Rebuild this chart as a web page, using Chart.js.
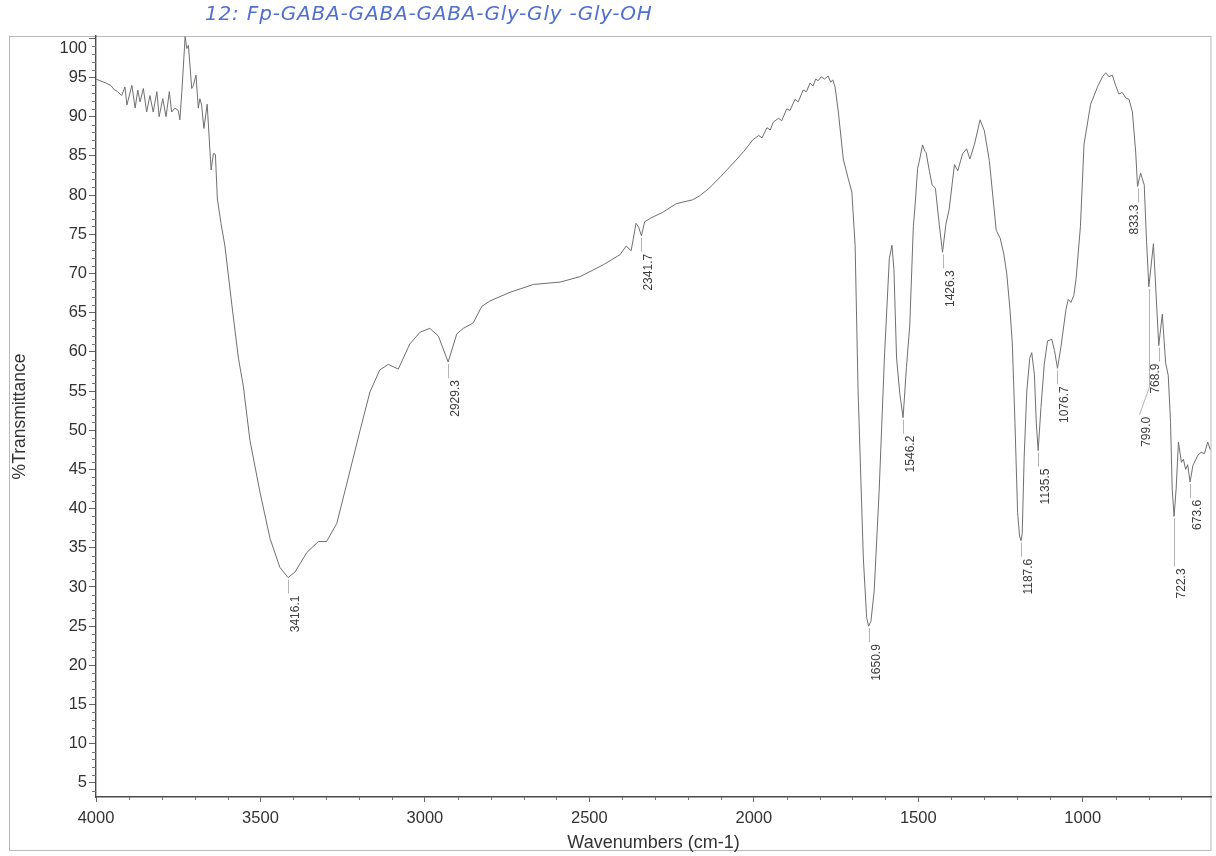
<!DOCTYPE html>
<html>
<head>
<meta charset="utf-8">
<title>FT-IR spectrum 12</title>
<script src="https://cdn.jsdelivr.net/npm/chart.js@4.4.1/dist/chart.umd.min.js"></script>
<style>
  html, body { margin: 0; padding: 0; background: #fff; }
  #spectrum { display: block; }
</style>
</head>
<body>
<canvas id="spectrum" width="1216" height="856"></canvas>
<script>
(() => {
  'use strict'

  const sampleName = '12: Fp-GABA-GABA-GABA-Gly-Gly -Gly-OH'

  // scan points, cm-1 (descending) and %T
  const wavenumbers = [
    4000, 3988, 3970, 3955, 3946, 3934, 3922, 3912, 3906, 3891, 3881, 3873, 3866, 3856,
    3846, 3836, 3826, 3815, 3808, 3797, 3787, 3777, 3770, 3760, 3750, 3745, 3739, 3729,
    3724, 3719, 3709, 3704, 3696, 3689, 3684, 3679, 3672, 3662, 3650, 3643, 3637, 3631,
    3620, 3608, 3587, 3567, 3552, 3532, 3501, 3471, 3441, 3416.1, 3395, 3359, 3324, 3299,
    3268, 3238, 3197, 3167, 3137, 3111, 3081, 3046, 3015, 2985, 2959, 2929.3, 2903, 2883,
    2853, 2827, 2802, 2741, 2670, 2589, 2528, 2458, 2407, 2388, 2373, 2358, 2350, 2341.7,
    2332, 2312, 2277, 2236, 2186, 2165, 2135, 2100, 2062, 2030, 2002, 1985, 1975, 1960,
    1950, 1941, 1925, 1915, 1900, 1890, 1875, 1865, 1850, 1840, 1829, 1820, 1812, 1804,
    1795, 1785, 1774, 1766, 1760, 1753, 1743, 1728, 1713, 1702, 1692, 1683, 1667, 1657,
    1650.9, 1644, 1634, 1619, 1603, 1588, 1580, 1574, 1566, 1556, 1546.2, 1536, 1526, 1515,
    1510, 1502, 1497, 1487, 1480, 1476, 1466, 1458, 1448, 1436, 1426.3, 1416, 1406, 1390,
    1380, 1365, 1353, 1343, 1329, 1312, 1299, 1284, 1263, 1251, 1240, 1231, 1221, 1214,
    1206, 1198, 1192, 1187.6, 1184, 1178, 1170, 1161, 1155, 1147, 1141, 1135.5, 1127, 1117,
    1107, 1094, 1086, 1076.7, 1066, 1051, 1044, 1036, 1027, 1020, 1007, 996, 976, 955,
    940, 930, 920, 910, 900, 890, 880, 869, 859, 849, 839, 833.3, 824, 813,
    806, 799.0, 785, 768.9, 758, 748, 740, 733, 728, 722.3, 716, 709, 700, 694,
    687, 681, 673.6, 665, 650, 640, 630, 620, 612
  ]
  const transmittance = [
    94.8, 94.6, 94.3, 94.0, 93.5, 93.2, 92.7, 93.8, 91.5, 94.0, 91.1, 93.4, 91.9, 93.6,
    90.6, 92.7, 90.6, 93.2, 90.0, 92.3, 90.0, 93.2, 90.6, 91.1, 90.8, 89.6, 93.2, 100.2,
    98.7, 99.1, 93.6, 94.0, 95.3, 91.1, 92.3, 91.5, 88.5, 91.6, 83.2, 85.3, 85.2, 79.5,
    76.4, 73.5, 66.0, 59.2, 55.6, 48.7, 42.0, 36.2, 32.5, 31.2, 31.9, 34.4, 35.8, 35.8,
    38.1, 43.1, 50.0, 54.9, 57.7, 58.4, 57.8, 61.0, 62.5, 63.0, 62.0, 58.7, 62.3, 63.0,
    63.7, 65.8, 66.5, 67.6, 68.6, 68.9, 69.6, 71.1, 72.4, 73.5, 72.9, 76.4, 75.9, 74.8,
    76.6, 77.1, 77.8, 78.9, 79.4, 79.9, 80.9, 82.4, 84.1, 85.6, 87.1, 87.6, 87.3, 88.6,
    88.3, 89.3, 89.8, 89.5, 91.0, 90.8, 92.2, 91.9, 93.4, 93.2, 94.3, 93.9, 94.8, 94.6,
    95.1, 94.8, 95.2, 94.4, 94.7, 93.8, 90.6, 84.6, 82.1, 80.4, 73.6, 55.0, 33.7, 26.1,
    25.0, 25.6, 29.5, 42.2, 59.2, 71.9, 73.6, 70.5, 59.2, 54.6, 51.6, 58.0, 63.3, 76.0,
    78.5, 83.4, 84.3, 86.4, 85.6, 85.4, 83.0, 81.3, 80.9, 76.2, 72.7, 76.3, 78.2, 83.9,
    83.1, 85.3, 85.9, 84.6, 86.5, 89.6, 88.2, 84.4, 75.5, 74.5, 72.5, 70.0, 65.3, 61.0,
    50.9, 39.5, 36.5, 35.9, 36.8, 46.6, 55.0, 59.2, 59.9, 57.1, 50.8, 47.4, 52.9, 58.4,
    61.4, 61.6, 60.2, 57.9, 60.7, 65.4, 66.7, 66.3, 67.2, 69.4, 76.0, 86.5, 91.6, 93.8,
    95.1, 95.6, 95.1, 95.3, 94.0, 92.9, 93.1, 92.4, 92.2, 90.6, 85.5, 81.1, 82.8, 81.3,
    74.1, 68.3, 73.8, 60.8, 64.8, 58.6, 57.0, 51.0, 42.5, 39.0, 42.5, 48.5, 45.9, 46.3,
    45.0, 45.6, 43.4, 45.5, 46.8, 47.2, 47.0, 48.5, 47.5
  ]

  // picked peaks
  const peakLabels = [
    3416.1, 2929.3, 2341.7, 1650.9, 1546.2, 1426.3, 1187.6,
    1135.5, 1076.7, 833.3, 799.0, 768.9, 722.3, 673.6
  ]

  const xTicks = [4000, 3500, 3000, 2500, 2000, 1500, 1000]
  const yTicks = [5, 10, 15, 20, 25, 30, 35, 40, 45, 50, 55, 60, 65, 70, 75, 80, 85, 90, 95, 100]

  // where labels would collide, move them aside or further down
  const labelLayout = {
    '833.3': { side: 'left' },
    '799.0': { bend: 100, shift: -10, drop: 128 },
    '768.9': { side: 'left' },
    '722.3': { drop: 50 }
  }

  const FONT = '"Liberation Sans", Arial, sans-serif'
  Chart.defaults.font.family = FONT

  // page frame, minor ticks, the shifted top label and the pen note
  const sheet = {
    id: 'sheet',
    beforeDraw(chart) {
      const { ctx, chartArea: a } = chart
      ctx.save()
      ctx.fillStyle = '#fff'
      ctx.fillRect(0, 0, chart.width, chart.height)
      ctx.strokeStyle = '#b9b9b9'
      ctx.lineWidth = 1
      ctx.strokeRect(9.5, Math.round(a.top) + 0.5, Math.round(a.right) - 9.5, 850 - Math.round(a.top))
      ctx.restore()
    },
    afterDraw(chart) {
      const { ctx, chartArea: a, scales: { x, y } } = chart
      ctx.save()
      ctx.strokeStyle = '#777'
      ctx.lineWidth = 1
      ctx.beginPath()
      for (let v = 4; v < 100; v++) {
        if (v % 5 === 0) continue
        const py = Math.round(y.getPixelForValue(v)) + 0.5
        ctx.moveTo(a.left - 4, py)
        ctx.lineTo(a.left, py)
      }
      for (let v = 700; v < 4000; v += 100) {
        if (v % 500 === 0) continue
        const px = Math.round(x.getPixelForValue(v)) + 0.5
        ctx.moveTo(px, a.bottom)
        ctx.lineTo(px, a.bottom + 3)
      }
      ctx.stroke()

      // top tick label sits just inside the frame
      ctx.font = '16.5px ' + FONT
      ctx.fillStyle = '#333'
      ctx.textAlign = 'right'
      ctx.textBaseline = 'middle'
      const top = yTicks[yTicks.length - 1]
      ctx.fillText(String(top), a.left - 9, y.getPixelForValue(top) + 10)

      // handwritten sample name
      ctx.font = 'italic 20px "DejaVu Sans", sans-serif'
      ctx.fillStyle = '#4f6fd3'
      ctx.textAlign = 'left'
      const w = ctx.measureText(sampleName).width
      if ('letterSpacing' in ctx) {
        ctx.letterSpacing = Math.max(0, (447 - w) / (sampleName.length - 1)).toFixed(2) + 'px'
      }
      ctx.fillText(sampleName, 205, 15)
      ctx.restore()
    }
  }

  // peak labels with leader lines
  const peakMarks = {
    id: 'peakMarks',
    afterDatasetsDraw(chart) {
      const { ctx, scales: { x, y } } = chart
      ctx.save()
      ctx.font = '12px ' + FONT
      ctx.fillStyle = '#3c3c3c'
      ctx.strokeStyle = '#a0a0a0'
      ctx.lineWidth = 0.8
      peakLabels.forEach(w => {
        const i = wavenumbers.indexOf(w)
        const px = Math.round(x.getPixelForValue(w)) + 0.5
        const py = y.getPixelForValue(transmittance[i])
        const text = w.toFixed(1)
        const opt = labelLayout[text] || {}
        const drop = opt.drop || 16
        let tx = px
        ctx.beginPath()
        ctx.moveTo(px, py + 2)
        if (opt.bend) {
          ctx.lineTo(px, py + opt.bend)
          tx = px + opt.shift
        }
        ctx.lineTo(tx, py + drop)
        ctx.stroke()
        ctx.save()
        ctx.translate(opt.side === 'left' ? tx - 1 : tx + 10, py + drop + 2)
        ctx.rotate(-Math.PI / 2)
        ctx.textAlign = 'right'
        ctx.textBaseline = 'alphabetic'
        ctx.fillText(text, 0, 0)
        ctx.restore()
      })
      ctx.restore()
    }
  }

  // eslint-disable-next-line no-unused-vars
  const spectrum = new Chart(document.getElementById('spectrum'), {
    type: 'line',
    data: {
      datasets: [{
        data: wavenumbers.map((w, i) => ({ x: w, y: transmittance[i] })),
        borderColor: '#707070',
        borderWidth: 1,
        pointRadius: 0,
        tension: 0,
        fill: false
      }]
    },
    options: {
      responsive: false,
      animation: false,
      devicePixelRatio: 1,
      layout: { padding: { top: 36, right: 5, bottom: 0, left: 0 } },
      plugins: {
        legend: { display: false },
        tooltip: { enabled: false }
      },
      scales: {
        x: {
          type: 'linear',
          reverse: true,
          min: 610,
          max: 4000,
          afterBuildTicks: s => { s.ticks = xTicks.map(v => ({ value: v })) },
          afterFit: s => { s.height = 59 },
          border: { color: '#4a4a4a', width: 1.4 },
          grid: { drawOnChartArea: false, tickLength: 5, tickColor: '#666' },
          ticks: {
            autoSkip: false,
            maxRotation: 0,
            padding: 7,
            color: '#333',
            font: { size: 16.5 },
            callback: v => String(v)
          },
          title: {
            display: true,
            text: 'Wavenumbers (cm-1)',
            color: '#333',
            font: { size: 18 },
            padding: { top: 0, bottom: 2.5 }
          }
        },
        y: {
          min: 3.2,
          max: 100.3,
          afterBuildTicks: s => { s.ticks = yTicks.map(v => ({ value: v })) },
          afterFit: s => { s.width = 96 },
          border: { color: '#4a4a4a', width: 1.4 },
          grid: { drawOnChartArea: false, tickLength: 7, tickColor: '#666' },
          ticks: {
            padding: 2,
            color: '#333',
            font: { size: 16.5 },
            callback: v => (v === yTicks[yTicks.length - 1] ? '' : String(v))
          },
          title: {
            display: true,
            text: '%Transmittance',
            color: '#333',
            font: { size: 17.5 },
            padding: { top: 9.5, bottom: 0 }
          }
        }
      }
    },
    plugins: [sheet, peakMarks]
  })
})()
</script>
</body>
</html>
